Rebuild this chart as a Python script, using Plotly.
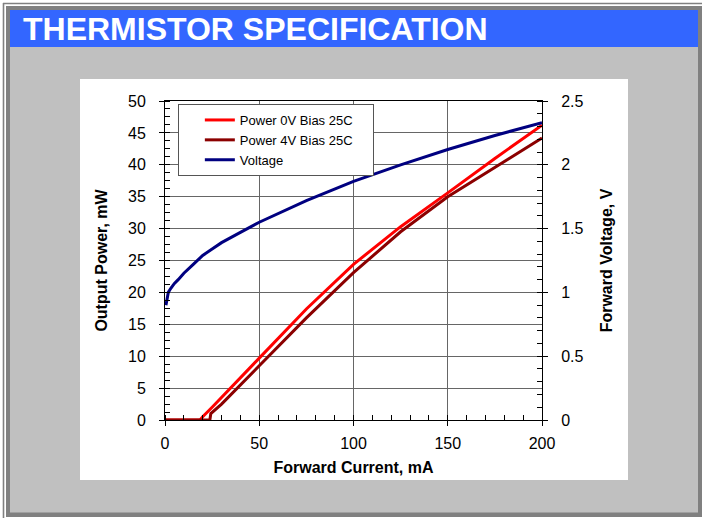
import plotly.graph_objects as go

# ---- data ----
current_p0 = [0, 18.6, 20, 25, 50, 75, 100, 125, 150, 175, 200]
power_0v = [0, 0, 0.5, 2.0, 9.7, 17.4, 24.4, 30.3, 35.6, 41.0, 46.2]

current_p4 = [0, 23.8, 24.3, 30, 50, 75, 100, 125, 150, 175, 200]
power_4v = [0, 0, 1.0, 2.5, 8.5, 16.0, 23.1, 29.5, 35.0, 39.6, 44.2]

current_v = [0.5, 1.0, 1.75, 3, 5, 7, 10, 15, 20, 25, 30, 40, 50, 75, 100, 125, 150, 175, 200]
voltage = [0.90, 0.95, 1.00, 1.03, 1.07, 1.10, 1.15, 1.22, 1.29, 1.34, 1.39, 1.47, 1.55, 1.72, 1.87, 2.00, 2.12, 2.23, 2.33]

names = ["Power 0V Bias 25C", "Power 4V Bias 25C", "Voltage"]
title_text = "THERMISTOR SPECIFICATION"

W, H = 702, 518
L, R, T, B = 165, 542, 101, 420  # plot area in pixels


def px(x):
    return (x - L) / (R - L)


def py(y):
    return (B - y) / (B - T)


def rect(x0, y0, x1, y1, fill):
    return dict(type="rect", xref="paper", yref="paper", layer="below",
                x0=px(x0), x1=px(x1), y0=py(y1), y1=py(y0),
                fillcolor=fill, line=dict(width=0))


def seg(x0, y0, x1, y1, color, width):
    return dict(type="line", xref="paper", yref="paper", layer="below",
                x0=px(x0), x1=px(x1), y0=py(y0), y1=py(y1),
                line=dict(color=color, width=width))


FONT = "Liberation Sans, Arial, sans-serif"
PAD = "\u00a0" * 4

fig = go.Figure()
fig.add_trace(go.Scatter(x=current_p0, y=power_0v, mode="lines", name=names[0] + PAD,
                         line=dict(color="#FF0000", width=3)))
fig.add_trace(go.Scatter(x=current_p4, y=power_4v, mode="lines", name=names[1] + PAD,
                         line=dict(color="#8B0000", width=3)))
fig.add_trace(go.Scatter(x=current_v, y=voltage, mode="lines", name=names[2],
                         line=dict(color="#000080", width=3), yaxis="y2"))

shapes = [
    seg(3.5, 3, 3.5, 518, "#808080", 1.6),
    seg(3, 3.5, 702, 3.5, "#808080", 1.6),
    rect(6, 6, 702, 517, "#808080"),
    rect(10, 47, 698, 512.5, "#C0C0C0"),
    rect(10, 10, 698, 47, "#3366FF"),
    rect(80, 79, 628, 480, "#FFFFFF"),
]

axis_common = dict(
    showline=True, linecolor="#000000", linewidth=1,
    ticks="outside", ticklen=5, tickcolor="#000000", tickwidth=1,
    tickfont=dict(family=FONT, size=16, color="#000000"),
    title_font=dict(family=FONT, size=16, color="#000000"),
    zeroline=False,
)

fig.update_layout(
    width=W, height=H,
    margin=dict(l=L, r=W - R, t=T, b=H - B, pad=0),
    paper_bgcolor="#FFFFFF", plot_bgcolor="rgba(0,0,0,0)",
    shapes=shapes,
    showlegend=True,
    legend=dict(x=px(178), y=py(104), xanchor="left", yanchor="top",
                bgcolor="#FFFFFF", bordercolor="#555555", borderwidth=1,
                font=dict(family=FONT, size=13, color="#000000"),
                title=dict(text="\u00a0" * 3, side="left",
                           font=dict(family=FONT, size=13)),
                tracegroupgap=0),
    annotations=[dict(text="<b>" + title_text + "</b>", xref="paper", yref="paper",
                      x=px(21), y=py(28.5), xanchor="left", yanchor="middle",
                      showarrow=False,
                      font=dict(family="Liberation Sans Narrow, Arial Narrow, Liberation Sans, sans-serif",
                                size=32, color="#FFFFFF"))],
    xaxis=dict(axis_common, range=[0, 200], dtick=50, mirror=True,
               showgrid=True, gridcolor="#666666", gridwidth=1,
               minor=dict(ticks="inside", dtick=10, ticklen=5, tickcolor="#000000", showgrid=False),
               ticklabelstandoff=4,
               title=dict(text="<b>Forward Current, mA</b>", standoff=10)),
    yaxis=dict(axis_common, range=[0, 50], dtick=5,
               showgrid=True, gridcolor="#666666", gridwidth=1,
               minor=dict(ticks="inside", dtick=1.25, ticklen=5, tickcolor="#000000", showgrid=False),
               ticklabelstandoff=10,
               title=dict(text="<b>Output Power, mW</b>", standoff=16)),
    yaxis2=dict(axis_common, range=[0, 2.5], dtick=0.5, overlaying="y", side="right",
                showgrid=False,
                minor=dict(ticks="inside", dtick=0.1, ticklen=5, tickcolor="#000000"),
                ticklabelstandoff=10,
                title=dict(text="<b>Forward Voltage, V</b>", standoff=18)),
)

fig.write_html("out.html", config={"displayModeBar": False},
               post_script="document.body.style.margin='0';")
